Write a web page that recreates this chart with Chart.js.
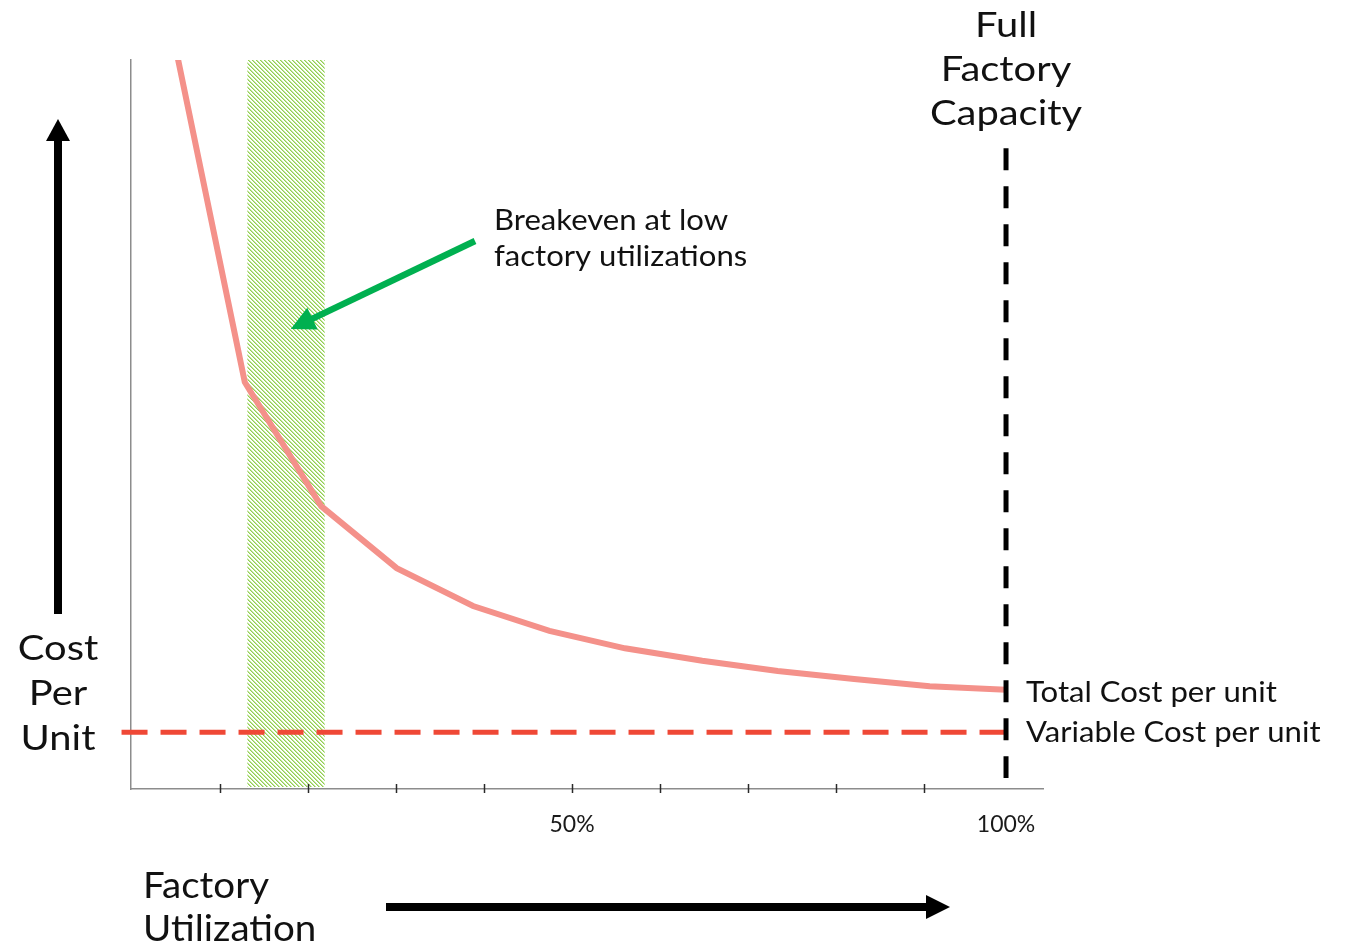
<!DOCTYPE html>
<html>
<head>
<meta charset="utf-8">
<script src="https://cdn.jsdelivr.net/npm/chart.js@4.4.1/dist/chart.umd.min.js"></script>
<style>
  html, body { margin: 0; padding: 0; background: #ffffff; overflow: hidden; }
  #wrap { width: 1349px; height: 944px; position: relative; }
</style>
</head>
<body>
<div id="wrap"><canvas id="c" width="1349" height="944"></canvas></div>
<script>
// Factory utilization (%) at each plotted point of the total-cost curve
const utilization = [3.6, 12.3, 21.1, 29.8, 38.6, 47.4, 56.1, 65.0, 73.7, 82.5, 91.2, 100];
// Total cost per unit (relative units, axis 0–100)
const totalCost = [105.9, 55.8, 38.8, 30.3, 25.1, 21.7, 19.3, 17.6, 16.2, 15.1, 14.1, 13.6];
// Variable cost per unit, flat across utilization
const variableCost = 7.8;
const variableSpan = [-1.9, 100];
// Full factory capacity marker
const capacityUtil = 100;
const capacitySpan = [87.9, 1.5];
// Breakeven band (utilization range)
const breakevenBand = [12.6, 21.5];
// Axis ticks
const xTickMarks = [9.45, 19.59, 29.72, 39.86, 50, 60.14, 70.28, 80.41, 90.55];
const xTickLabels = [50, 100];

const FONT = 'Lato, "Open Sans", sans-serif';
const WIDE = 1.14;    // horizontal stretch for the large lettering
const WIDE_S = 1.11;  // horizontal stretch for the smaller notes

function hatchPattern(ctx) {
  const c = document.createElement('canvas');
  c.width = 4; c.height = 4;
  const g = c.getContext('2d');
  g.fillStyle = '#ffffff';
  g.fillRect(0, 0, 4, 4);
  for (let y = 0; y < 4; y++) {
    for (let x = 0; x < 4; x++) {
      const d = ((x - y) % 4 + 4) % 4;
      if (d === 0) { g.fillStyle = '#92D050'; g.fillRect(x, y, 1, 1); }
      else if (d === 1) { g.fillStyle = '#C3E59E'; g.fillRect(x, y, 1, 1); }
    }
  }
  return ctx.createPattern(c, 'repeat');
}

function text(ctx, str, x, y, align, sx) {
  ctx.save();
  ctx.translate(x, y);
  ctx.scale(sx, 1);
  ctx.textAlign = align;
  ctx.fillText(str, 0, 0);
  ctx.restore();
}

function arrow(ctx, x1, y1, x2, y2, width, headLen, headHalf, color) {
  const a = Math.atan2(y2 - y1, x2 - x1);
  const bx = x2 - Math.cos(a) * headLen;
  const by = y2 - Math.sin(a) * headLen;
  ctx.save();
  ctx.strokeStyle = color;
  ctx.fillStyle = color;
  ctx.lineWidth = width;
  ctx.lineCap = 'butt';
  ctx.beginPath();
  ctx.moveTo(x1, y1);
  ctx.lineTo(bx + Math.cos(a) * 1, by + Math.sin(a) * 1);
  ctx.stroke();
  ctx.beginPath();
  ctx.moveTo(x2, y2);
  ctx.lineTo(bx - Math.sin(a) * headHalf, by + Math.cos(a) * headHalf);
  ctx.lineTo(bx + Math.sin(a) * headHalf, by - Math.cos(a) * headHalf);
  ctx.closePath();
  ctx.fill();
  ctx.restore();
}

const bandPlugin = {
  id: 'breakevenBand',
  beforeDatasetsDraw(chart) {
    const { ctx, chartArea, scales: { x } } = chart;
    const x0 = x.getPixelForValue(breakevenBand[0]);
    const x1 = x.getPixelForValue(breakevenBand[1]);
    ctx.save();
    ctx.fillStyle = hatchPattern(ctx);
    ctx.fillRect(x0, chartArea.top, x1 - x0, chartArea.bottom - chartArea.top - 2);
    ctx.restore();
  }
};

const tickMarkPlugin = {
  id: 'tickMarks',
  afterDraw(chart) {
    const { ctx, scales: { x } } = chart;
    const y = x.top;
    ctx.save();
    ctx.strokeStyle = '#2a2a2a';
    ctx.lineWidth = 1.5;
    xTickMarks.forEach(v => {
      const px = Math.round(x.getPixelForValue(v)) + 0.5;
      ctx.beginPath();
      ctx.moveTo(px, y - 5);
      ctx.lineTo(px, y + 4);
      ctx.stroke();
    });
    ctx.restore();
  }
};

const notesPlugin = {
  id: 'notes',
  afterDraw(chart) {
    const { ctx, scales: { x, y } } = chart;
    ctx.save();
    ctx.fillStyle = '#111111';
    ctx.textBaseline = 'alphabetic';

    // Capacity heading
    ctx.font = '35px ' + FONT;
    const cx = x.getPixelForValue(capacityUtil);
    text(ctx, 'Full', cx, 37, 'center', WIDE);
    text(ctx, 'Factory', cx, 81, 'center', WIDE);
    text(ctx, 'Capacity', cx, 125, 'center', WIDE);

    // Breakeven note with pointer into the band
    ctx.font = '28px ' + FONT;
    text(ctx, 'Breakeven at low', 494, 230, 'left', WIDE_S);
    text(ctx, 'factory utilizations', 494, 266, 'left', WIDE_S);
    arrow(ctx, 475, 241, x.getPixelForValue(17.6), y.getPixelForValue(63.1), 6.5, 24, 12, '#00B050');

    // Series labels
    ctx.font = '28px ' + FONT;
    text(ctx, 'Total Cost per unit', 1026, 702, 'left', WIDE_S);
    text(ctx, 'Variable Cost per unit', 1026, 742, 'left', WIDE_S);

    // Vertical axis title
    ctx.font = '35px ' + FONT;
    text(ctx, 'Cost', 58, 660, 'center', WIDE);
    text(ctx, 'Per', 58, 705, 'center', WIDE);
    text(ctx, 'Unit', 58, 750, 'center', WIDE);
    arrow(ctx, 58, 614, 58, 119, 8, 22, 12, '#000000');

    // Horizontal axis title
    ctx.font = '36px ' + FONT;
    text(ctx, 'Factory', 143, 898, 'left', 1.07);
    text(ctx, 'Utilization', 143, 941, 'left', 1.07);
    arrow(ctx, 386, 907, 950, 907, 8, 24, 12, '#000000');

    ctx.restore();
  }
};

new Chart(document.getElementById('c').getContext('2d'), {
  type: 'line',
  data: {
    datasets: [
      {
        label: 'Full Factory Capacity',
        data: capacitySpan.map(v => ({ x: capacityUtil, y: v })),
        borderColor: '#000000',
        borderWidth: 5,
        borderDash: [22, 16],
        pointRadius: 0,
        order: 0,
        clip: false
      },
      {
        label: 'Variable Cost per unit',
        data: variableSpan.map(u => ({ x: u, y: variableCost })),
        borderColor: '#EF4836',
        borderWidth: 5,
        borderDash: [26, 13],
        pointRadius: 0,
        order: 1,
        clip: false
      },
      {
        label: 'Total Cost per unit',
        data: utilization.map((u, i) => ({ x: u, y: totalCost[i] })),
        borderColor: '#F4918A',
        borderWidth: 6,
        pointRadius: 0,
        tension: 0,
        order: 2,
        clip: 0
      }
    ]
  },
  options: {
    responsive: false,
    animation: false,
    layout: { padding: { left: 0, top: 60, right: 306, bottom: 0 } },
    plugins: { legend: { display: false }, tooltip: { enabled: false } },
    scales: {
      x: {
        type: 'linear',
        min: -0.81,
        max: 104.26,
        afterFit(s) { s.height = 155; },
        afterBuildTicks(s) { s.ticks = xTickLabels.map(v => ({ value: v })); },
        grid: { display: false, drawTicks: false },
        border: { display: true, color: '#8c8c8c', width: 1.5 },
        ticks: {
          autoSkip: false,
          maxRotation: 0,
          padding: 22,
          color: '#1a1a1a',
          font: { family: FONT, size: 23 },
          callback: v => v + '%'
        }
      },
      y: {
        type: 'linear',
        min: 0,
        max: 100,
        afterFit(s) { s.width = 131; },
        grid: { display: false, drawTicks: false },
        border: { display: true, color: '#8c8c8c', width: 1.5 },
        ticks: { display: false }
      }
    }
  },
  plugins: [bandPlugin, tickMarkPlugin, notesPlugin]
});
</script>
</body>
</html>
